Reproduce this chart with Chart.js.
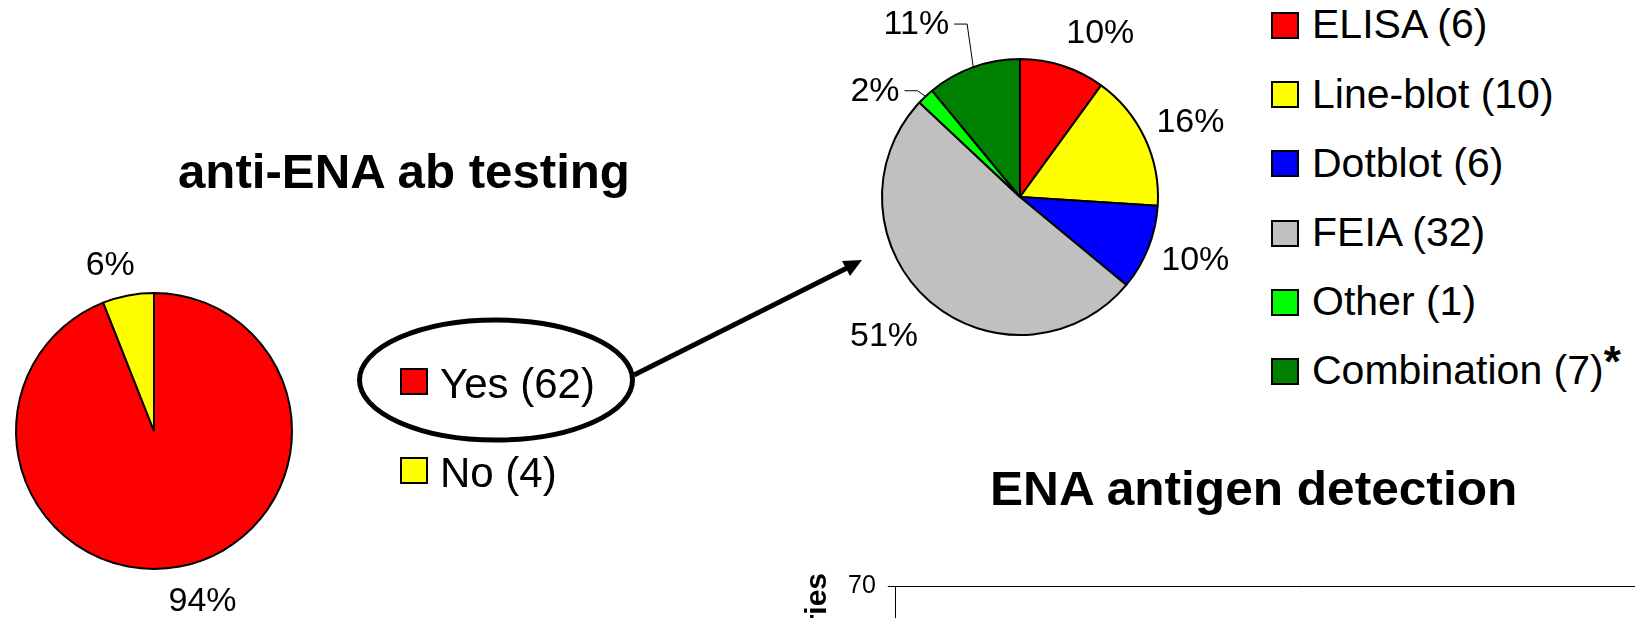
<!DOCTYPE html>
<html>
<head>
<meta charset="utf-8">
<title>anti-ENA ab testing</title>
<script src="https://cdn.jsdelivr.net/npm/chart.js@4.4.1/dist/chart.umd.min.js"></script>
<style>
  html, body { margin: 0; padding: 0; background: #fff; }
  #page {
    position: relative; width: 1635px; height: 618px; overflow: hidden; background: #fff;
    font-family: "Liberation Sans", Arial, Helvetica, sans-serif; color: #000;
  }
  #page canvas, #page svg { position: absolute; }
  .title { position: absolute; font-weight: bold; font-size: 48px; line-height: 1; white-space: nowrap; transform-origin: 0 0; }
  .key { position: absolute; white-space: nowrap; }
  .key i { position: absolute; left: 0; top: 0; width: 28px; height: 27px; border: 2px solid #000; box-sizing: border-box; }
  .key span { position: absolute; line-height: 1; }
  .key b { position: relative; font-size: 44px; line-height: 0; top: -7px; }
</style>
</head>
<body>
<div id="page">
  <svg width="1635" height="618" style="left:0;top:0">
    <ellipse cx="496" cy="380" rx="136.5" ry="60" fill="none" stroke="#000" stroke-width="5"/>
    <line x1="634" y1="375" x2="847" y2="268" stroke="#000" stroke-width="5"/>
    <polygon points="862,260 842,261 850,276" fill="#000"/>
  </svg>
  <canvas id="testingPie" width="500" height="500" style="left:-96px;top:181px"></canvas>
  <canvas id="methodPie" width="440" height="394" style="left:800px;top:0"></canvas>
  <canvas id="antigenBar" width="1700" height="358" style="left:799px;top:559px"></canvas>
  <div class="title" id="testingTitle" style="left:178px;top:148px">anti-ENA ab testing</div>
  <div class="title" id="antigenTitle" style="left:990px;top:465px">ENA antigen detection</div>
  <div id="testingKey"></div>
  <div id="methodKey"></div>
</div>
<script>
// anti-ENA ab testing (yes / no), shares in % and lab counts
const testingLabels = ['Yes', 'No'];
const testingCounts = [62, 4];
const testingShares = [94, 6];
const testingColors = ['#FF0000', '#FFFF00'];

// methods used for ENA antigen detection
const methodLabels = ['ELISA', 'Line-blot', 'Dotblot', 'FEIA', 'Other', 'Combination'];
const methodCounts = [6, 10, 6, 32, 1, 7];
const methodShares = [10, 16, 10, 51, 2, 11];
const methodNotes = ['', '', '', '', '', '*'];
const methodColors = ['#FF0000', '#FFFF00', '#0000FF', '#C0C0C0', '#00FF00', '#008000'];

// bar chart below: only the top of its axis is inside the picture
const antigenLabels = [];
const countTicks = [0, 10, 20, 30, 40, 50, 60, 70];

Chart.defaults.font.family = '"Liberation Sans", Arial, Helvetica, sans-serif';
Chart.defaults.color = '#000';

// percentage labels outside the slices, excel style
const outsideLabels = {
    id: 'outsideLabels',
    afterDatasetsDraw(chart, args, opts) {
        const ctx = chart.ctx;
        const meta = chart.getDatasetMeta(0);
        const values = chart.data.datasets[0].data;
        ctx.save();
        ctx.font = opts.size + 'px "Liberation Sans", Arial, sans-serif';
        ctx.fillStyle = '#000';
        ctx.strokeStyle = '#000';
        ctx.lineWidth = 1;
        ctx.textAlign = 'center';
        ctx.textBaseline = 'alphabetic';
        meta.data.forEach((arc, i) => {
            const {x, y, startAngle, endAngle, outerRadius} =
                arc.getProps(['x', 'y', 'startAngle', 'endAngle', 'outerRadius'], true);
            const mid = (startAngle + endAngle) / 2;
            const dx = Math.cos(mid);
            const dy = Math.sin(mid);
            const text = values[i] + '%';
            const w = ctx.measureText(text).width;
            const h = opts.size * 0.716;
            const nudge = (opts.nudge || [])[i] || [0, 0];
            const px = x + dx * (outerRadius + opts.gap);
            const py = y + dy * (outerRadius + opts.gap);
            const cx = px + dx * w / 2 + nudge[0];
            const cy = py + dy * h / 2 + nudge[1];
            ctx.fillText(text, cx, cy + h / 2);
            if ((opts.leader || [])[i]) {
                const edge = cx < x ? cx + w / 2 + 5 : cx - w / 2 - 5;
                const elbow = cx < x ? edge + 13 : edge - 13;
                ctx.beginPath();
                ctx.moveTo(x + dx * outerRadius, y + dy * outerRadius);
                ctx.lineTo(elbow, cy + 2);
                ctx.lineTo(edge, cy + 2);
                ctx.stroke();
            }
        });
        ctx.restore();
    }
};

function pieChart(id, labels, shares, colors, radius, labelOpts) {
    return new Chart(document.getElementById(id), {
        type: 'pie',
        data: {
            labels: labels,
            datasets: [{
                data: shares,
                backgroundColor: colors,
                borderColor: '#000',
                borderWidth: 2,
                radius: radius,
            }]
        },
        options: {
            responsive: false,
            animation: false,
            events: [],
            devicePixelRatio: 1,
            layout: {padding: 0},
            plugins: {
                legend: {display: false},
                tooltip: {enabled: false},
                outsideLabels: labelOpts,
            }
        },
        plugins: [outsideLabels]
    });
}

pieChart('testingPie', testingLabels, testingShares, testingColors, 138, {
    size: 34, gap: 23,
    nudge: [[12, -2], [-9, 2]],
});

pieChart('methodPie', methodLabels, methodShares, methodColors, 138, {
    size: 34, gap: 23,
    nudge: [[20, -1], [-6, -3], [-6, -3], [-7, 7], [-18, 18], [-38, -12]],
    leader: [0, 0, 0, 0, 1, 1],
});

new Chart(document.getElementById('antigenBar'), {
    type: 'bar',
    data: {
        labels: antigenLabels,
        datasets: []
    },
    options: {
        responsive: false,
        animation: false,
        events: [],
        devicePixelRatio: 1,
        layout: {padding: 0},
        plugins: {
            legend: {display: false},
            tooltip: {enabled: false},
        },
        scales: {
            x: {
                type: 'category',
                display: false,
                grid: {display: false},
                border: {display: false},
            },
            y: {
                min: countTicks[0],
                max: countTicks[countTicks.length - 1],
                afterBuildTicks: (axis) => {
                    axis.ticks = countTicks.map(v => ({value: v}));
                },
                ticks: {
                    color: '#000',
                    font: {size: 25},
                    padding: 12,
                },
                grid: {
                    color: (c) => (c.tick && c.tick.value === countTicks[countTicks.length - 1]) ? '#000' : 'rgba(0,0,0,0)',
                    tickColor: '#000',
                    tickLength: 8,
                    lineWidth: 1,
                },
                border: {color: '#000', width: 1},
                title: {
                    display: true,
                    text: 'Number of laboratories',
                    color: '#000',
                    font: {size: 30, weight: 'bold'},
                    padding: {top: 1, bottom: 0},
                }
            }
        }
    }
});

// legends as html, one row per category
function buildKey(holderId, labels, counts, notes, colors, pos) {
    const holder = document.getElementById(holderId);
    labels.forEach((label, i) => {
        const row = document.createElement('div');
        row.className = 'key';
        row.style.left = pos.left + 'px';
        row.style.top = (pos.top + i * pos.step) + 'px';
        const box = document.createElement('i');
        box.style.background = colors[i];
        const txt = document.createElement('span');
        txt.style.left = pos.textLeft + 'px';
        txt.style.top = pos.textTop + 'px';
        txt.style.fontSize = pos.size + 'px';
        txt.textContent = label + ' (' + counts[i] + ')';
        if (notes && notes[i]) {
            const note = document.createElement('b');
            note.textContent = notes[i];
            txt.appendChild(note);
        }
        row.appendChild(box);
        row.appendChild(txt);
        holder.appendChild(row);
    });
}

buildKey('testingKey', testingLabels, testingCounts, null, testingColors,
    {left: 400, top: 368, step: 89, textLeft: 40, textTop: -5.5, size: 42});
buildKey('methodKey', methodLabels, methodCounts, methodNotes, methodColors,
    {left: 1271, top: 12, step: 69.2, textLeft: 41, textTop: -7.7, size: 41});

// the slide titles are set a bit wider than plain Arial bold
function fitWidth(id, width) {
    const el = document.getElementById(id);
    el.style.transform = 'scaleX(' + (width / el.offsetWidth) + ')';
}
fitWidth('testingTitle', 452);
fitWidth('antigenTitle', 527);
</script>
</body>
</html>
